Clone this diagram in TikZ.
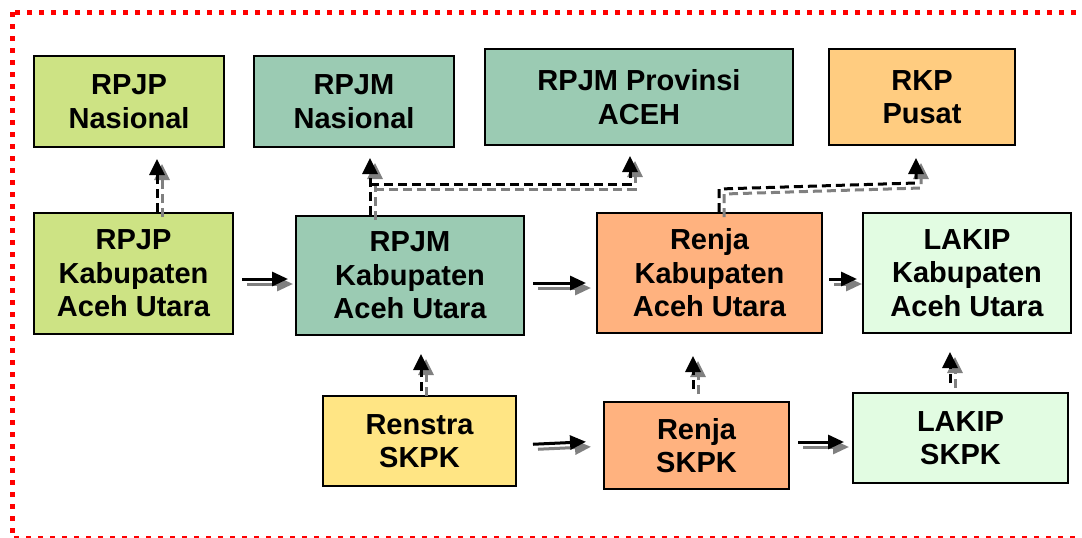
\documentclass[tikz,border=0pt]{standalone}
\usepackage{fontspec}
\setmainfont{Liberation Sans}
\usetikzlibrary{arrows.meta,calc}
\definecolor{cGreenY}{RGB}{205,227,132}
\definecolor{cTeal}{RGB}{155,203,179}
\definecolor{cOrange}{RGB}{255,204,128}
\definecolor{cSalmon}{RGB}{255,178,127}
\definecolor{cMint}{RGB}{226,252,226}
\definecolor{cYellow}{RGB}{255,229,132}
\definecolor{cBorder}{RGB}{255,0,0}
\definecolor{cShadow}{RGB}{128,128,128}
\tikzset{
 box/.style={draw=black, line width=2pt, align=center, inner sep=0pt,
   font=\fontsize{29}{33.5}\selectfont\bfseries},
 harr/.style={line width=3pt, -{Triangle[width=14pt,length=16pt]}},
 varr/.style={line width=3pt, dash pattern=on 9pt off 5pt, -{Triangle[width=15pt,length=16pt]}},
 shd/.style={cShadow, transform canvas={xshift=5pt,yshift=-5pt}},
 frame/.style={cBorder, line width=5pt, dash pattern=on 5pt off 7pt},
}
\newcommand\twin[2][]{\draw[#1,shd] #2; \draw[#1] #2;}
\begin{document}
\begin{tikzpicture}[x=1pt,y=-1pt]
\useasboundingbox (0,0) rectangle (1082,538);
\clip (0,0) rectangle (1082,538);
\fill[white] (0,0) rectangle (1082,538);
\draw[frame] (12,12) rectangle (1092,538);

% top row
\node[box, fill=cGreenY, minimum width=190pt, minimum height=91pt] (rpjpn) at (129,101.5) {RPJP\\Nasional};
\node[box, fill=cTeal, minimum width=200pt, minimum height=91pt] (rpjmn) at (354,101.5) {RPJM\\Nasional};
\node[box, fill=cTeal, minimum width=308pt, minimum height=96pt] (rpjmp) at (639,97) {RPJM Provinsi\\ACEH};
\node[box, fill=cOrange, minimum width=186pt, minimum height=96pt] (rkp) at (922,97) {RKP\\Pusat};
% middle row
\node[box, fill=cGreenY, minimum width=199pt, minimum height=121pt] (rpjpk) at (133.5,273.5) {RPJP\\Kabupaten\\Aceh Utara};
\node[box, fill=cTeal, minimum width=228pt, minimum height=119pt] (rpjmk) at (410,275.5) {RPJM\\Kabupaten\\Aceh Utara};
\node[box, fill=cSalmon, minimum width=225pt, minimum height=120pt] (rnjk) at (709.5,273) {Renja\\Kabupaten\\Aceh Utara};
\node[box, fill=cMint, minimum width=208pt, minimum height=120pt] (lakk) at (967,273) {LAKIP\\Kabupaten\\Aceh Utara};
% bottom row
\node[box, fill=cYellow, minimum width=193pt, minimum height=90pt] (renstra) at (419.5,441) {Renstra\\SKPK};
\node[box, fill=cSalmon, minimum width=185pt, minimum height=87pt] (rnjs) at (696.5,445.5) {Renja\\SKPK};
\node[box, fill=cMint, minimum width=215pt, minimum height=90pt] (laks) at (960.5,438) {LAKIP\\SKPK};

% helper coordinates
\coordinate (x157) at (157,0);
\coordinate (xa) at (370,0);
\coordinate (xb) at (630,0);
\coordinate (ya) at (0,184);
\coordinate (b1) at (719,189);
\coordinate (b2) at (916,183);
\coordinate (x421) at (421,0);
\coordinate (x693) at (693,0);
\coordinate (x950) at (950,0);
\coordinate (y279) at (0,279);
\coordinate (y283) at (0,283);
\coordinate (y442) at (0,442);

% vertical dashed arrows
\twin[varr, shorten >=11pt]{(rpjpk.north -| x157) -- (rpjpn.south -| x157)}
\twin[varr, shorten >=10pt]{(rpjmk.north -| xa) -- (rpjmn.south -| xa)}
\twin[varr, shorten >=10pt]{(xa |- ya) -- (xb |- ya) -- (rpjmp.south -| xb)}
\twin[varr, shorten >=12pt]{(rnjk.north -| b1) -- (b1) -- (b2) -- (rkp.south -| b2)}
\twin[varr, shorten <=4pt, shorten >=18pt]{(renstra.north -| x421) -- (rpjmk.south -| x421)}
\twin[varr, shorten <=12pt, shorten >=22pt]{(rnjs.north -| x693) -- (rnjk.south -| x693)}
\twin[varr, shorten <=9pt, shorten >=18pt]{(laks.north -| x950) -- (lakk.south -| x950)}

% horizontal arrows
\twin[harr, shorten <=8pt, shorten >=7pt]{(rpjpk.east |- y279) -- (rpjmk.west |- y279)}
\twin[harr, shorten <=8pt, shorten >=10pt]{(rpjmk.east |- y283) -- (rnjk.west |- y283)}
\twin[harr, shorten <=6pt, shorten >=5pt]{(rnjk.east |- y279) -- (lakk.west |- y279)}
\twin[harr, shorten <=16pt, shorten >=17pt]{($(renstra.east)+(0,4)$) -- ($(rnjs.west)+(0,-4.5)$)}
\twin[harr, shorten <=8pt, shorten >=8pt]{(rnjs.east |- y442) -- (laks.west |- y442)}
\end{tikzpicture}
\end{document}
